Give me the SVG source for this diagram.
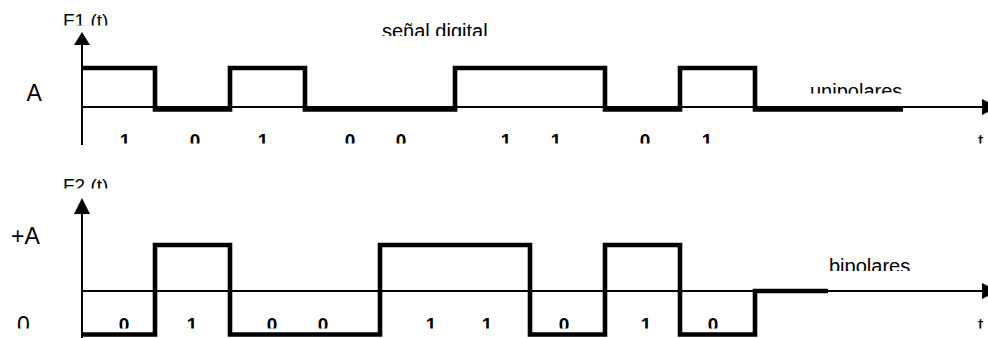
<svg xmlns="http://www.w3.org/2000/svg" width="988" height="338" viewBox="0 0 988 338">
<style>
.bg{fill:#fff}
.axis{stroke:#000;stroke-width:2;fill:none}
.wave{stroke:#000;stroke-width:4.6;fill:none;stroke-linejoin:miter}
.head{fill:#000}
.lbl{font-family:"Liberation Sans",Arial,sans-serif;fill:#000}
.big{font-size:23px}
.mid{font-size:20px}
.ax{font-size:19px}
.bit{font-size:19px;font-weight:bold;text-anchor:middle}
</style>
<defs>
<clipPath id="cF1" clipPathUnits="userSpaceOnUse"><rect x="0" y="0" width="988" height="25.5"/></clipPath>
<clipPath id="cTitle" clipPathUnits="userSpaceOnUse"><rect x="0" y="0" width="988" height="36"/></clipPath>
<clipPath id="cUni" clipPathUnits="userSpaceOnUse"><rect x="0" y="0" width="988" height="93.5"/></clipPath>
<clipPath id="cTop" clipPathUnits="userSpaceOnUse"><rect x="0" y="0" width="988" height="143.5"/></clipPath>
<clipPath id="cF2" clipPathUnits="userSpaceOnUse"><rect x="0" y="0" width="988" height="188.5"/></clipPath>
<clipPath id="cBi" clipPathUnits="userSpaceOnUse"><rect x="0" y="0" width="988" height="271"/></clipPath>
<clipPath id="cBot" clipPathUnits="userSpaceOnUse"><rect x="0" y="0" width="988" height="328.5"/></clipPath>
</defs>
<rect class="bg" x="0" y="0" width="988" height="338"/>

<g id="unipolar">
  <g id="axes-top">
    <line class="axis" x1="82" y1="44" x2="82" y2="145"/>
    <polygon class="head" points="82,32 74,45 90,45"/>
    <line class="axis" x1="82" y1="107" x2="984" y2="107"/>
    <polygon class="head" points="982,99 998,107 982,115"/>
  </g>
  <polyline id="wave-top" class="wave" points="82,68 155,68 155,109.5 230,109.5 230,68 305,68 305,109.5 455,109.5 455,68 605,68 605,109.5 680,109.5 680,68 755,68 755,109.5 903,109.5"/>
  <g id="labels-top">
    <text class="lbl ax" x="63" y="27" clip-path="url(#cF1)">F1 (t)</text>
    <text class="lbl mid" x="382" y="38" clip-path="url(#cTitle)">señal digital</text>
    <text class="lbl mid" x="810" y="98" clip-path="url(#cUni)">unipolares</text>
    <text class="lbl big" x="26.5" y="101">A</text>
    <g clip-path="url(#cTop)">
      <text class="lbl bit" x="125" y="146.5">1</text>
      <text class="lbl bit" x="195" y="146.5">0</text>
      <text class="lbl bit" x="263" y="146.5">1</text>
      <text class="lbl bit" x="350" y="146.5">0</text>
      <text class="lbl bit" x="401" y="146.5">0</text>
      <text class="lbl bit" x="506" y="146.5">1</text>
      <text class="lbl bit" x="556" y="146.5">1</text>
      <text class="lbl bit" x="645" y="146.5">0</text>
      <text class="lbl bit" x="707" y="146.5">1</text>
      <text class="lbl ax" x="978" y="146.5">t</text>
    </g>
  </g>
</g>

<g id="bipolar">
  <g id="axes-bottom">
    <line class="axis" x1="82" y1="212" x2="82" y2="338"/>
    <polygon class="head" points="82,198 74,214 90,214"/>
    <line class="axis" x1="82" y1="291" x2="984" y2="291"/>
    <polygon class="head" points="982,283 998,291 982,299"/>
  </g>
  <polyline id="wave-bottom" class="wave" points="82,334.5 155,334.5 155,245 230,245 230,334.5 380,334.5 380,245 530,245 530,334.5 605,334.5 605,245 680,245 680,334.5 755,334.5 755,291 828,291"/>
  <g id="labels-bottom">
    <text class="lbl ax" x="63" y="192" clip-path="url(#cF2)">F2 (t)</text>
    <text class="lbl mid" x="829" y="273" clip-path="url(#cBi)">bipolares</text>
    <text class="lbl big" x="11" y="243.5">+A</text>
    <g clip-path="url(#cBot)">
      <text class="lbl big" x="17" y="333">0</text>
      <text class="lbl bit" x="124" y="331">0</text>
      <text class="lbl bit" x="192" y="331">1</text>
      <text class="lbl bit" x="272" y="331">0</text>
      <text class="lbl bit" x="323" y="331">0</text>
      <text class="lbl bit" x="431" y="331">1</text>
      <text class="lbl bit" x="487" y="331">1</text>
      <text class="lbl bit" x="564" y="331">0</text>
      <text class="lbl bit" x="646" y="331">1</text>
      <text class="lbl bit" x="713" y="331">0</text>
      <text class="lbl ax" x="978" y="331">t</text>
    </g>
  </g>
</g>
</svg>
